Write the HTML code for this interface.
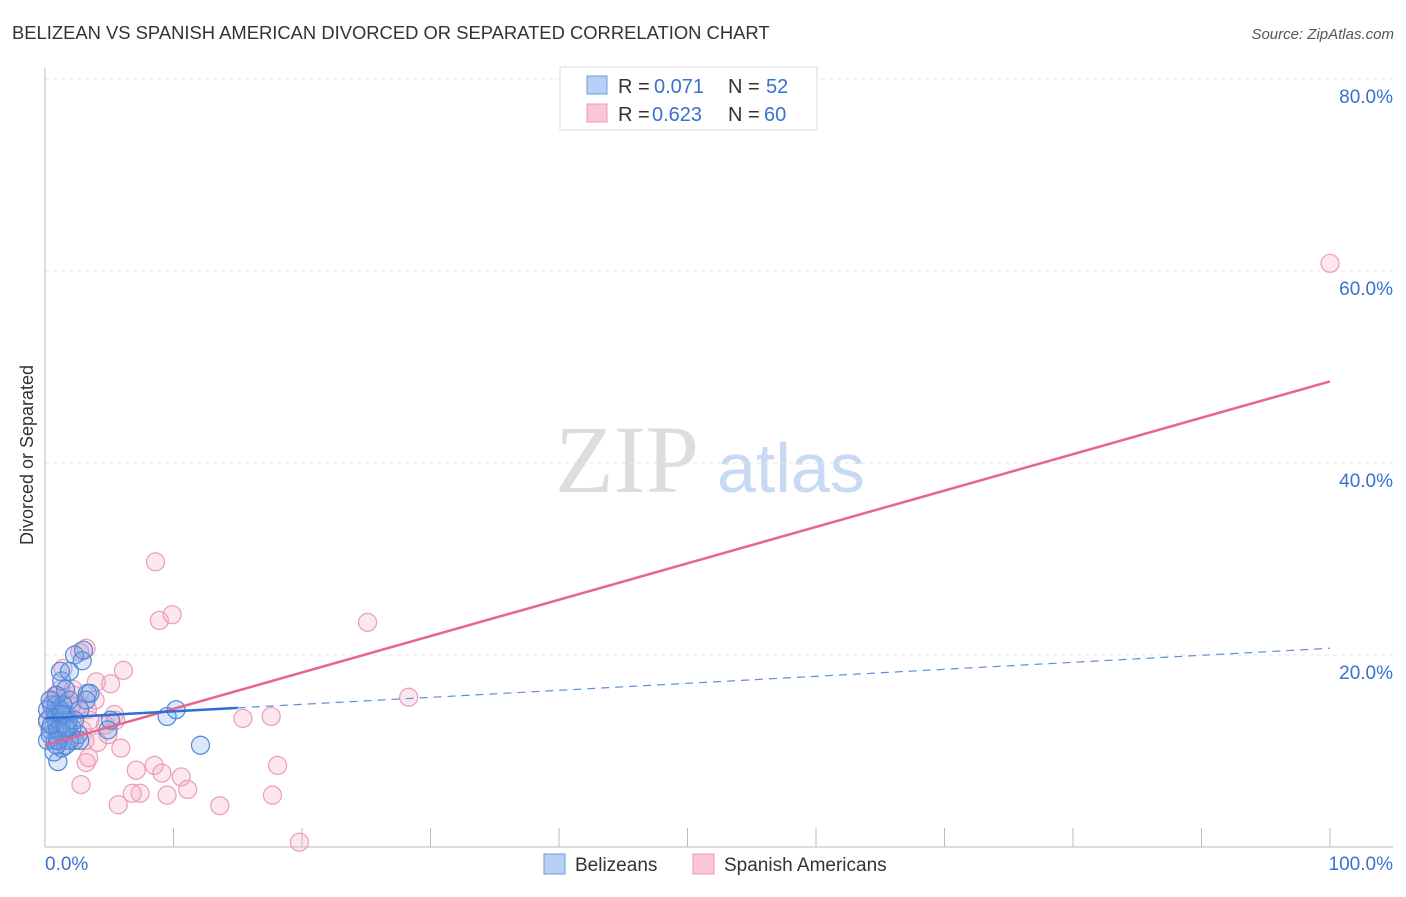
<!DOCTYPE html>
<html><head><meta charset="utf-8"><style>
body{margin:0;background:#fff;font-family:"Liberation Sans",sans-serif}
#c{position:relative;width:1406px;height:892px}
</style></head><body>
<div id="c">
<svg width="1406" height="892" id="svg">
<text x="12" y="39" font-size="18.4" fill="#333">BELIZEAN VS SPANISH AMERICAN DIVORCED OR SEPARATED CORRELATION CHART</text>
<text x="1394" y="39" font-size="15" fill="#555" font-style="italic" text-anchor="end">Source: ZipAtlas.com</text>
<text x="555" y="492" font-size="96" fill="#ddd" font-family="Liberation Serif,serif">ZIP</text>
<text x="717" y="492" font-size="70" fill="#c8daf3">atlas</text>
<text transform="translate(33,455) rotate(-90)" font-size="18" fill="#333" text-anchor="middle">Divorced or Separated</text>
<g id="grid"></g><g id="axes"></g><g id="pts"></g><g id="lines"></g>
<g>
<rect x="560" y="67" width="257" height="63" fill="#fff" stroke="#ddd"/>
<rect x="587" y="76" width="20" height="18" fill="#b6d0f5" stroke="#6a9be0"/>
<rect x="587" y="104" width="20" height="18" fill="#fbc6d6" stroke="#eb9bb4"/>
<text x="618" y="93" font-size="20" fill="#333">R =</text>
<text x="654" y="93" font-size="20" fill="#3a70d0">0.071</text>
<text x="728" y="93" font-size="20" fill="#333">N =</text>
<text x="766" y="93" font-size="20" fill="#3a70d0">52</text>
<text x="618" y="121" font-size="20" fill="#333">R =</text>
<text x="652" y="121" font-size="20" fill="#3a70d0">0.623</text>
<text x="728" y="121" font-size="20" fill="#333">N =</text>
<text x="764" y="121" font-size="20" fill="#3a70d0">60</text>
</g>
<g>
<rect x="544" y="854" width="21" height="20" fill="#b6d0f5" stroke="#6a9be0"/>
<text x="575" y="871" font-size="19" fill="#333">Belizeans</text>
<rect x="693" y="854" width="21" height="20" fill="#fbc6d6" stroke="#eb9bb4"/>
<text x="724" y="871" font-size="19" fill="#333">Spanish Americans</text>
</g>
</svg>
</div>
<script>
const blueX=[1.2,1.3,1.9,2.3,2.9,3.0,3.3,1.8,1.0,1.3,0.8,0.4,0.5,0.8,1.2,1.6,1.9,2.3,2.6,4.9,12.1,9.5,10.2,5.1,0.8,0.2,0.4,0.9,1.3,1.6,2.1,2.7,3.5,0.9,1.2,1.6,1.9,0.2,0.5,0.2,0.7,1.0,1.4,1.8,2.3,2.7,3.2,0.4,0.9,1.3,1.6,1.0];
const blueY=[18.3,17.3,18.3,20.0,19.4,20.5,16.0,13.2,8.9,10.3,11.1,12.2,14.8,14.1,12.7,16.4,15.3,11.1,11.7,12.2,10.6,13.6,14.3,13.2,13.4,13.2,11.7,14.8,11.7,13.8,12.4,11.1,16.0,15.8,14.3,10.6,11.1,14.3,12.7,11.1,9.9,12.2,14.8,12.4,13.2,14.3,15.3,15.3,10.6,13.8,12.4,11.1];
const pinkX=[8.6,8.9,9.9,25.1,100,3.2,6.1,2.7,4.0,5.1,1.4,0.8,1.3,2.2,3.3,2.6,5.4,5.5,4.1,5.9,4.9,15.4,17.6,28.3,18.1,17.7,7.1,8.5,9.1,10.6,9.5,11.1,7.4,6.8,5.7,13.6,19.8,2.8,3.2,3.4,1.6,0.5,0.8,1.2,1.8,2.1,1.0,0.2,0.4,0.9,2.3,2.9,3.9,4.7,1.8,1.3,1.0,2.1,3.1,3.5];
const pinkY=[29.7,23.6,24.2,23.4,60.8,20.7,18.4,20.3,17.2,17.0,18.6,15.8,15.3,16.4,14.3,14.8,13.8,13.2,10.9,10.3,11.7,13.4,13.6,15.6,8.5,5.4,8.0,8.5,7.7,7.3,5.4,6.0,5.6,5.6,4.4,4.3,0.5,6.5,8.8,9.3,10.6,13.8,15.3,16.4,12.7,14.8,11.4,13.0,15.3,12.7,15.8,12.2,15.3,12.7,13.8,12.7,14.1,11.4,11.1,13.2];
const yTicks=[20,40,60,80];
const xTicks=[0,10,20,30,40,50,60,70,80,90,100];
const blueTrend=[13.4,20.7], blueSolidEnd=15;
const pinkTrend=[10.6,48.5];
const ns="http://www.w3.org/2000/svg";
const X=v=>45+v*12.85, Y=v=>847-v*9.6;
function mk(t,a,p){const e=document.createElementNS(ns,t);for(const k in a)e.setAttribute(k,a[k]);document.getElementById(p).appendChild(e);return e;}
yTicks.forEach(t=>{
 const l=mk('line',{x1:45,x2:1393,y1:Y(t),y2:Y(t),stroke:'#e6e6e6','stroke-dasharray':'4,4'},'grid');
 
 
 const tx=mk('text',{x:1393,y:Y(t)+24,'font-size':19,fill:'#3a70d0','text-anchor':'end'},'grid');
 tx.textContent=t+'.0%';
 
 
});
const ya=mk('line',{x1:45,x2:45,y1:68,y2:847,stroke:'#bbb'},'axes');


const xa=mk('line',{x1:45,x2:1393,y1:847,y2:847,stroke:'#bbb'},'axes');


xTicks.slice(1).forEach(t=>{const l=mk('line',{x1:X(t),x2:X(t),y1:828,y2:847,stroke:'#bbb'},'axes');
 
 });
[[0,'0.0%','start',45],[100,'100.0%','end',1393]].forEach(d=>{const t=mk('text',{x:d[3],y:870,'font-size':19,fill:'#3a70d0','text-anchor':d[2]},'axes');t.textContent=d[1];
 
 });
pinkX.forEach((v,i)=>{const c=mk('circle',{cx:X(v),cy:Y(pinkY[i]),r:9,fill:'rgba(248,170,195,0.28)',stroke:'#ec9cb5','stroke-width':1.2},'pts');
 
 });
blueX.forEach((v,i)=>{const c=mk('circle',{cx:X(v),cy:Y(blueY[i]),r:9,fill:'rgba(110,160,235,0.25)',stroke:'#4f88d8','stroke-width':1.2},'pts');
 
 });
const pl=mk('line',{x1:X(0),y1:Y(pinkTrend[0]),x2:X(100),y2:Y(pinkTrend[1]),stroke:'#e5668f','stroke-width':2.5},'lines');


const bAt=v=>blueTrend[0]+(blueTrend[1]-blueTrend[0])*v/100;
const bs=mk('line',{x1:X(0),y1:Y(bAt(0)),x2:X(blueSolidEnd),y2:Y(bAt(blueSolidEnd)),stroke:'#2d6fd6','stroke-width':2.5},'lines');


const bd=mk('line',{x1:X(blueSolidEnd),y1:Y(bAt(blueSolidEnd)),x2:X(100),y2:Y(bAt(100)),stroke:'#5b8ee0','stroke-width':1.2,'stroke-dasharray':'8,6'},'lines');


</script>
</body></html>
